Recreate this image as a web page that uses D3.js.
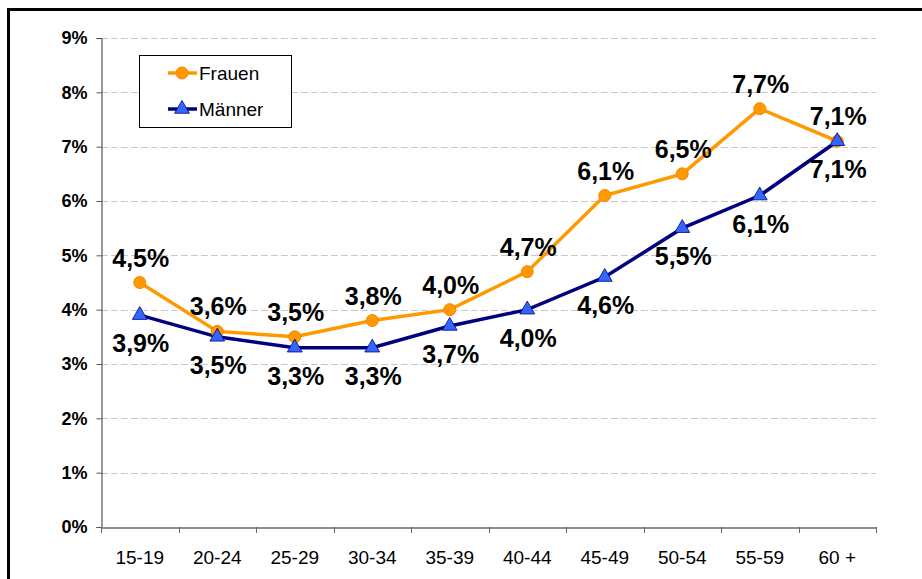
<!DOCTYPE html>
<html>
<head>
<meta charset="utf-8">
<script src="https://cdn.jsdelivr.net/npm/d3@7"></script>
<style>
  body { margin: 0; background: #fff; }
  svg { display: block; font-family: Arial, "Liberation Sans", sans-serif; }
</style>
</head>
<body>
<div id="chart"></div>
<script>
// age groups on the x axis
const ageGroups = ["15-19", "20-24", "25-29", "30-34", "35-39", "40-44", "45-49", "50-54", "55-59", "60 +"];
// rates in percent
const frauen = [4.5, 3.6, 3.5, 3.8, 4.0, 4.7, 6.1, 6.5, 7.7, 7.1];
const maenner = [3.9, 3.5, 3.3, 3.3, 3.7, 4.0, 4.6, 5.5, 6.1, 7.1];
const yTicks = [0, 1, 2, 3, 4, 5, 6, 7, 8, 9];

const width = 922, height = 579;
const plot = { left: 101, right: 876, top: 38, bottom: 527 };

const svg = d3.select("#chart").append("svg")
    .attr("width", width)
    .attr("height", height);

svg.append("rect").attr("width", width).attr("height", height).attr("fill", "#fff");

// outer frame (runs off the picture on the right and bottom)
svg.append("rect")
    .attr("x", 8.5).attr("y", 9.5)
    .attr("width", 1000).attr("height", 1000)
    .attr("fill", "none")
    .attr("stroke", "#000")
    .attr("stroke-width", 3);

const x = d3.scaleBand().domain(ageGroups).range([plot.left, plot.right]);
const y = d3.scaleLinear().domain([0, 9]).range([plot.bottom, plot.top]);
const cx = d => x(d) + x.bandwidth() / 2;

// dashed gridlines
svg.append("g")
    .selectAll("line")
    .data(yTicks.filter(d => d > 0))
    .enter().append("line")
    .attr("x1", plot.left).attr("x2", plot.right)
    .attr("y1", d => Math.round(y(d)) + 0.5).attr("y2", d => Math.round(y(d)) + 0.5)
    .attr("stroke", "#c8c8c8")
    .attr("stroke-dasharray", "7,3");

// y axis
const yAxis = svg.append("g")
    .attr("transform", `translate(${plot.left + 0.5},0)`)
    .call(d3.axisLeft(y).tickValues(yTicks).tickFormat(d => d + "%").tickSize(5).tickPadding(9));
yAxis.select(".domain").attr("stroke", "#333");
yAxis.selectAll(".tick line").attr("stroke", "#555");
yAxis.selectAll("text")
    .attr("font-size", 18).attr("font-weight", "bold").attr("fill", "#000")
    .attr("font-family", "Arial, 'Liberation Sans', sans-serif");

// x axis: labels centred, ticks on category boundaries
const xAxis = svg.append("g")
    .attr("transform", `translate(0,${plot.bottom + 0.5})`)
    .call(d3.axisBottom(x).tickSize(0).tickPadding(23));
xAxis.select(".domain").attr("stroke", "#666").attr("stroke-width", 1.5);
xAxis.selectAll("text")
    .attr("font-size", 19).attr("fill", "#000")
    .attr("font-family", "Arial, 'Liberation Sans', sans-serif");
svg.append("g")
    .selectAll("line")
    .data(ageGroups.map(d => x(d)).concat([plot.right]))
    .enter().append("line")
    .attr("x1", d => Math.round(d) + 0.5).attr("x2", d => Math.round(d) + 0.5)
    .attr("y1", plot.bottom).attr("y2", plot.bottom + 6)
    .attr("stroke", "#666");

const line = d3.line().x((d, i) => cx(ageGroups[i])).y(d => y(d));

// Männer series
svg.append("path")
    .datum(maenner)
    .attr("d", line)
    .attr("fill", "none")
    .attr("stroke", "#000080")
    .attr("stroke-width", 3.5);

// Frauen series
svg.append("path")
    .datum(frauen)
    .attr("d", line)
    .attr("fill", "none")
    .attr("stroke", "#ff9900")
    .attr("stroke-width", 3.5);

svg.append("g")
    .selectAll("circle")
    .data(frauen)
    .enter().append("circle")
    .attr("cx", (d, i) => cx(ageGroups[i]))
    .attr("cy", d => y(d))
    .attr("r", 6)
    .attr("fill", "#ff9900")
    .attr("stroke", "#ff7f00");

const tri = d3.symbol().type(d3.symbolTriangle).size(95);
svg.append("g")
    .selectAll("path")
    .data(maenner)
    .enter().append("path")
    .attr("d", tri)
    .attr("transform", (d, i) => `translate(${cx(ageGroups[i])},${y(d)})`)
    .attr("fill", "#3366ff")
    .attr("stroke", "#000080")
    .attr("stroke-width", 0.8);

const fmt = v => v.toFixed(1).replace(".", ",") + "%";

// data labels: Frauen above, Männer below
svg.append("g")
    .selectAll("text")
    .data(frauen)
    .enter().append("text")
    .attr("x", (d, i) => cx(ageGroups[i]) + 1)
    .attr("y", d => y(d) - 16)
    .attr("text-anchor", "middle")
    .attr("font-size", 25)
    .attr("font-weight", "bold")
    .text(fmt);

svg.append("g")
    .selectAll("text")
    .data(maenner)
    .enter().append("text")
    .attr("x", (d, i) => cx(ageGroups[i]) + 1)
    .attr("y", d => y(d) + 37)
    .attr("text-anchor", "middle")
    .attr("font-size", 25)
    .attr("font-weight", "bold")
    .text(fmt);

// legend
const legend = svg.append("g");
legend.append("rect")
    .attr("x", 139.5).attr("y", 55.5)
    .attr("width", 152).attr("height", 72)
    .attr("fill", "#fff")
    .attr("stroke", "#000");

const legendItems = [
    { name: "Frauen", y: 73 },
    { name: "Männer", y: 109 }
];
legendItems.forEach(item => {
    const isF = item.name === "Frauen";
    legend.append("line")
        .attr("x1", 168).attr("x2", 197)
        .attr("y1", item.y).attr("y2", item.y)
        .attr("stroke", isF ? "#ff9900" : "#000080")
        .attr("stroke-width", 3.5);
    if (isF) {
        legend.append("circle")
            .attr("cx", 182).attr("cy", item.y).attr("r", 6)
            .attr("fill", "#ff9900").attr("stroke", "#ff7f00");
    } else {
        legend.append("path")
            .attr("d", tri)
            .attr("transform", `translate(182,${item.y})`)
            .attr("fill", "#3366ff").attr("stroke", "#000080").attr("stroke-width", 0.8);
    }
    legend.append("text")
        .attr("x", 199).attr("y", item.y + 7)
        .attr("font-size", 19)
        .text(item.name);
});
</script>
</body>
</html>
